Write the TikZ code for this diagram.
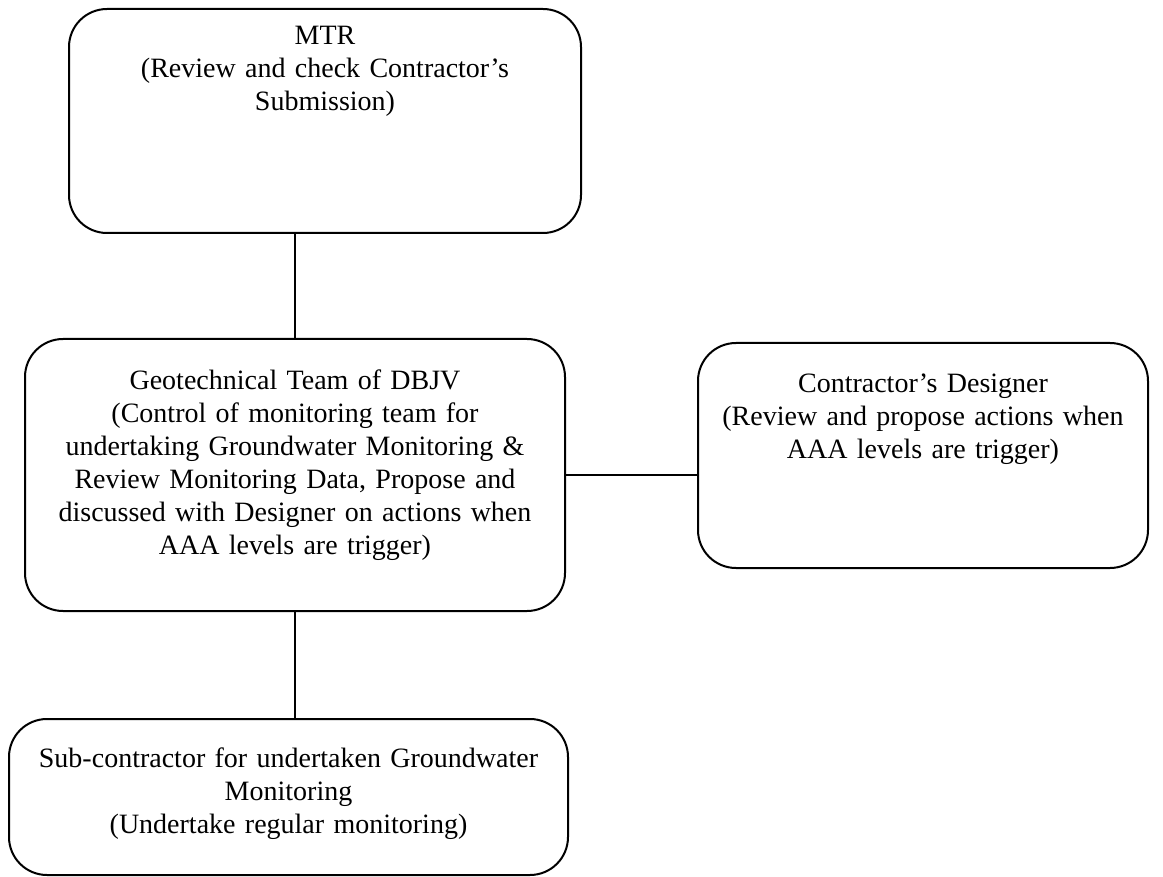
\documentclass[tikz,border=0pt]{standalone}
\usepackage{fontspec}
\setmainfont{Liberation Serif}
\usepackage{tikz}

\begin{document}
\begin{tikzpicture}[
  x=0.5pt, y=-0.5pt,
  box/.style={draw=black, line width=1pt, rounded corners=19pt, inner xsep=0pt, inner ysep=0pt,
              align=center, anchor=north west, font=\fontsize{14}{16.5}\selectfont},
  link/.style={draw=black, line width=1pt},
]
  \useasboundingbox (0,0) rectangle (1163,877);

  \node[box, text width=256pt,   text height=18pt,   text depth=94pt]   (mtr) at (68,8)
    {MTR\\ (Review and check Contractor's\\ Submission)};
  \node[box, text width=270pt,   text height=25.5pt, text depth=110.5pt] (geo) at (24,338)
    {Geotechnical Team of DBJV\\ (Control of monitoring team for\\ undertaking Groundwater Monitoring \&\\
     Review Monitoring Data, Propose and\\ discussed with Designer on actions when\\ AAA levels are trigger)};
  \node[box, text width=225pt,   text height=25pt,   text depth=87.5pt] (des) at (697,342)
    {Contractor's Designer\\ (Review and propose actions when\\ AAA levels are trigger)};
  \node[box, text width=279.5pt, text height=24pt,   text depth=54pt]   (sub) at (8,718)
    {Sub-contractor for undertaken Groundwater\\ Monitoring\\ (Undertake regular monitoring)};

  \draw[link] (geo.north) -- (geo.north |- mtr.south);
  \draw[link] (geo.east) -- (geo.east -| des.west);
  \draw[link] (geo.south) -- (geo.south |- sub.north);
\end{tikzpicture}
\end{document}
